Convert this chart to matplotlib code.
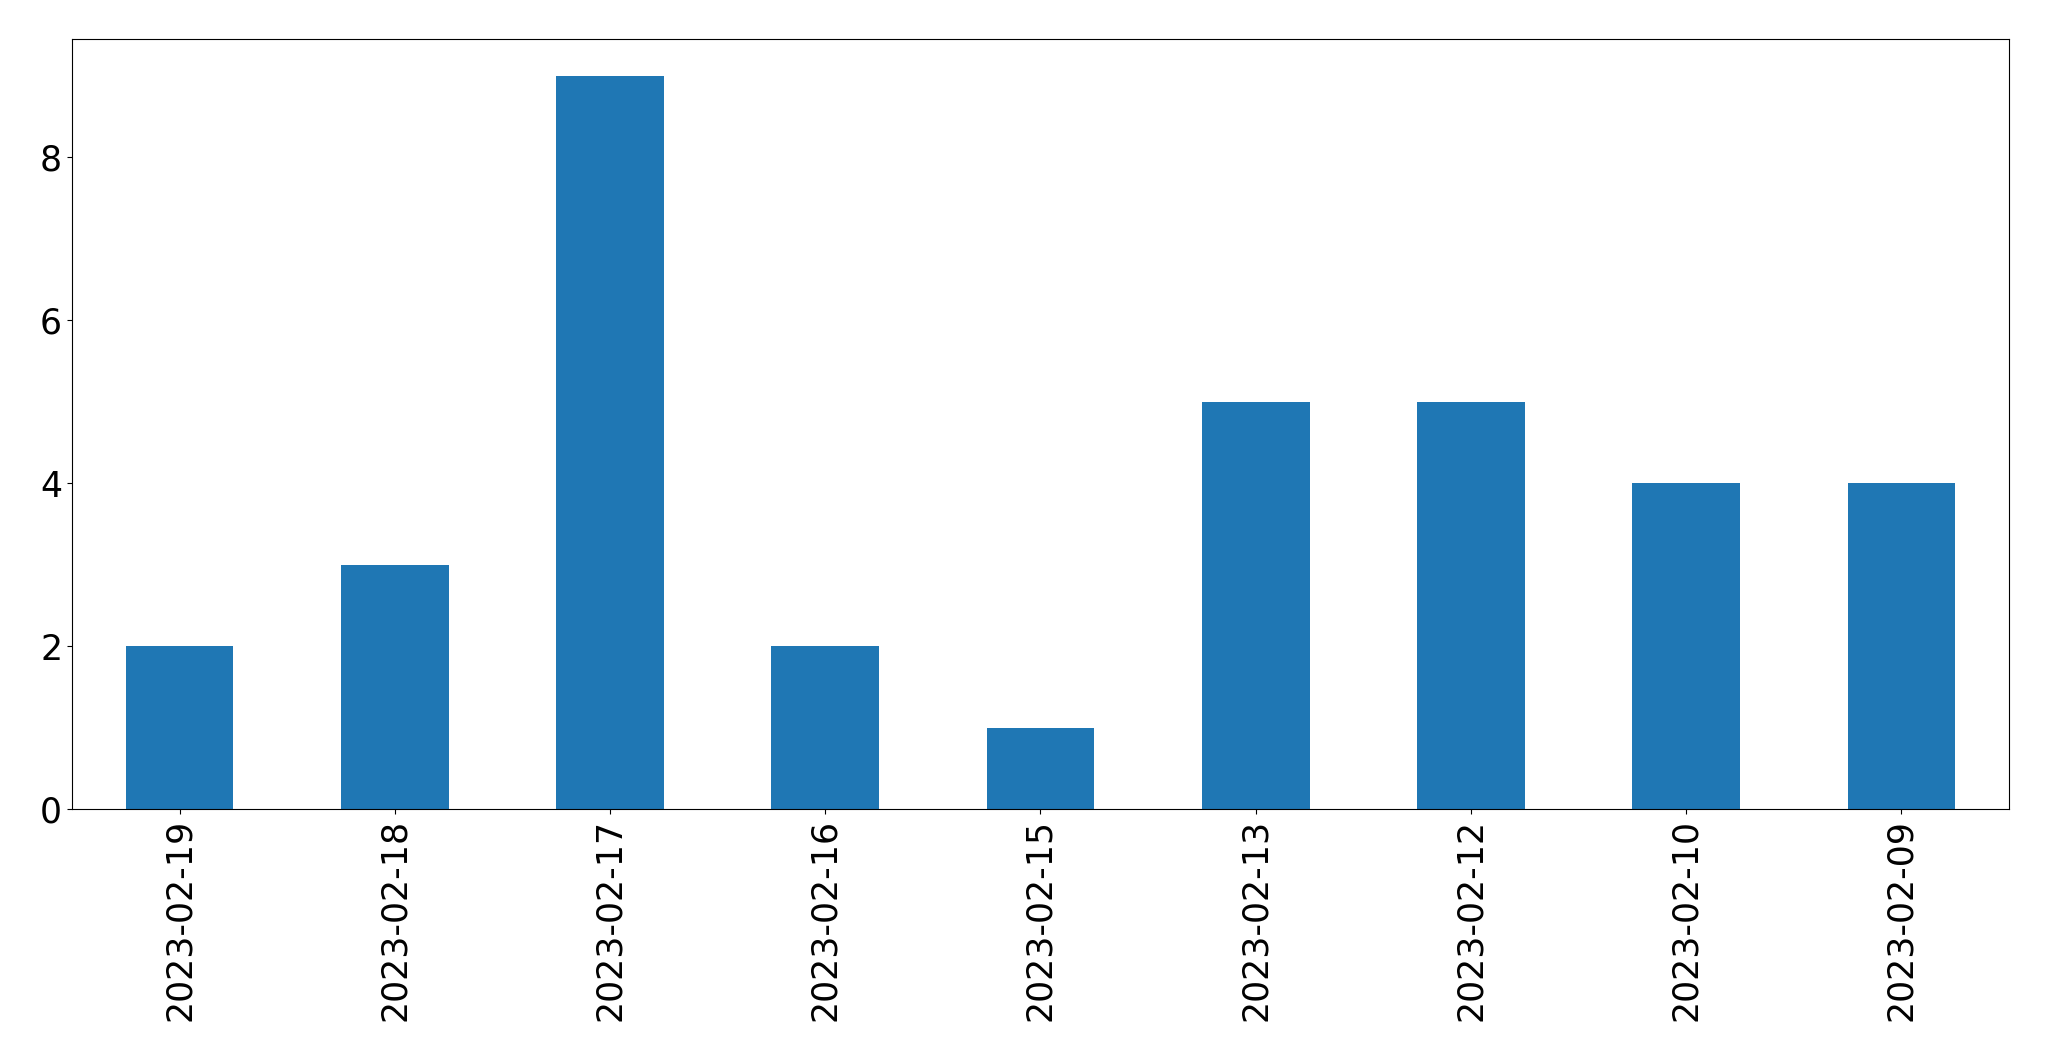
import matplotlib
matplotlib.use("Agg")
import matplotlib.pyplot as plt
import pandas as pd

# counts per day (newest first, as in the source)
dates = ["2023-02-19", "2023-02-18", "2023-02-17", "2023-02-16", "2023-02-15",
         "2023-02-13", "2023-02-12", "2023-02-10", "2023-02-09"]
counts = [2, 3, 9, 2, 1, 5, 5, 4, 4]

s = pd.Series(counts, index=dates)

fig = plt.figure(figsize=(20.49, 10.61), dpi=100)
ax = fig.add_axes([0.0351, 0.2375, 0.9454, 0.7257])
s.plot(kind="bar", ax=ax, color="#1f77b4", width=0.5)

ax.tick_params(axis="both", labelsize=25)
ax.set_yticks([0, 2, 4, 6, 8])

fig.savefig("out.png", dpi=100)
